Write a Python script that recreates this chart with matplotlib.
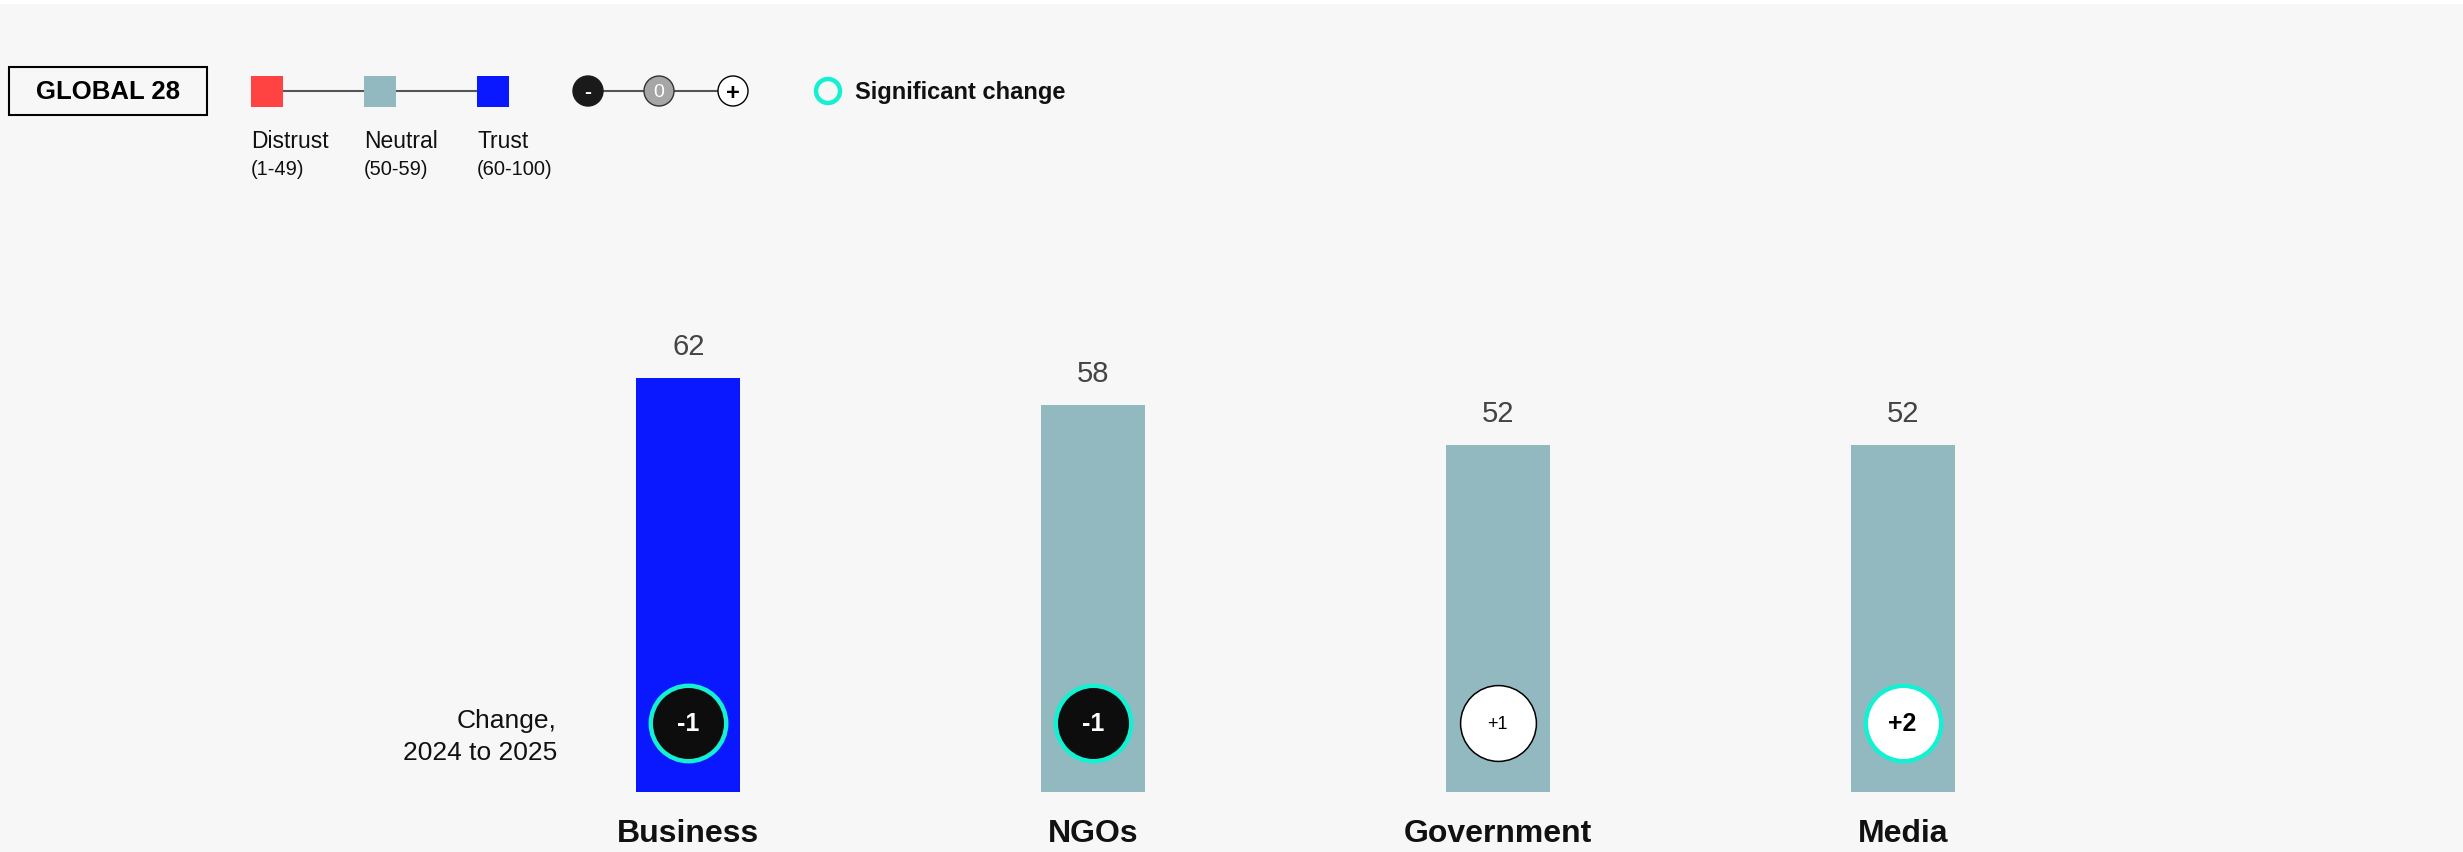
import matplotlib
matplotlib.use("Agg")
import matplotlib.pyplot as plt
from matplotlib.patches import Rectangle, Circle
import numpy as np

plt.rcParams['font.family'] = ['Liberation Sans', 'DejaVu Sans']

# data
categories = ["Business", "NGOs", "Government", "Media"]
trust = [62, 58, 52, 52]
change = [-1, -1, 1, 2]
significant = [True, True, False, True]

level_names = ["Distrust", "Neutral", "Trust"]
level_ranges = ["(1-49)", "(50-59)", "(60-100)"]

# colours
RED = '#FF4242'
NEUTRAL = '#93B9C0'
BLUE = '#0A18FF'
TEAL = '#14F0D2'
DARK = '#0D0D0D'
BG = '#F7F7F7'


def level_color(v):
    if v < 50:
        return RED
    elif v < 60:
        return NEUTRAL
    return BLUE


fig = plt.figure(figsize=(24.63, 8.53), dpi=100, facecolor=BG)

# main bar axes: y=0 at 793px, 6.68 px per point
H = 853.0
W = 2463.0
ax = fig.add_axes([486 / W, (H - 793) / H, 1619 / W, 668 / H])
ax.set_facecolor('none')
x = np.arange(len(categories))
ax.bar(x, trust, width=0.257, color=[level_color(v) for v in trust], zorder=2)
ax.set_xlim(-0.5, 3.5)
ax.set_ylim(0, 100)
for s in ax.spines.values():
    s.set_visible(False)
ax.set_yticks([])
ax.set_xticks(x)
ax.set_xticklabels(categories, fontsize=23, fontweight='bold', color='#111111')
ax.tick_params(axis='x', length=0, pad=19)

for i, v in enumerate(trust):
    ax.annotate(str(v), (x[i], v), xytext=(0, 23), textcoords='offset points',
                ha='center', va='center', fontsize=21, color='#444444')

# change circles
cy = 10.3
for i, c in enumerate(change):
    if c < 0:
        fc, tc = DARK, 'white'
    elif c > 0:
        fc, tc = 'white', 'black'
    else:
        fc, tc = '#A0A0A0', 'white'
    if significant[i]:
        ax.scatter(x[i], cy, s=2950, facecolor=fc, edgecolor=TEAL, linewidth=3.2, zorder=3)
    else:
        ax.scatter(x[i], cy, s=2980, facecolor=fc, edgecolor='black', linewidth=1.1, zorder=3)
    label = "%+d" % c if c != 0 else "0"
    ax.text(x[i], cy, label, ha='center', va='center', color=tc, zorder=4,
            fontsize=18 if significant[i] else 13,
            fontweight='bold' if significant[i] else 'normal')

# overlay in pixel coords for header / legend
ov = fig.add_axes([0, 0, 1, 1])
ov.set_xlim(0, W)
ov.set_ylim(H, 0)
ov.axis('off')
ov.patch.set_alpha(0)

ov.add_patch(Rectangle((0, 0), W, 5, facecolor='white', edgecolor='none'))

ov.text(557, 721, "Change,", ha='right', va='center', fontsize=19, color='#111111')
ov.text(557, 753, "2024 to 2025", ha='right', va='center', fontsize=19, color='#111111')

# GLOBAL 28 box
ov.add_patch(Rectangle((9, 68), 198, 48, facecolor=BG, edgecolor='black', linewidth=1.5))
ov.text(108, 92, "GLOBAL 28", ha='center', va='center', fontsize=18.5, fontweight='bold')

# trust scale legend
sq_x = [251, 364, 477]
ov.plot([267, 493], [92, 92], color='#555555', linewidth=1.5, zorder=1)
for k, col in enumerate([RED, NEUTRAL, BLUE]):
    ov.add_patch(Rectangle((sq_x[k], 77), 32, 31, facecolor=col, edgecolor='none', zorder=2))
    ov.text(sq_x[k], 141, level_names[k], ha='left', va='center', fontsize=16.5, color='#111111')
    ov.text(sq_x[k], 169, level_ranges[k], ha='left', va='center', fontsize=14.5, color='#111111')

# change direction legend
cx = [588, 659, 733]
ov.plot([588, 733], [92, 92], color='#555555', linewidth=1.5, zorder=1)
ov.add_patch(Circle((cx[0], 92), 15, facecolor='#1A1A1A', edgecolor='#1A1A1A', zorder=2))
ov.text(cx[0], 92, "-", ha='center', va='center', color='white', fontsize=15, fontweight='bold', zorder=3)
ov.add_patch(Circle((cx[1], 92), 15, facecolor='#A6A6A6', edgecolor='#333333', linewidth=1, zorder=2))
ov.text(cx[1], 92, "0", ha='center', va='center', color='white', fontsize=14, zorder=3)
ov.add_patch(Circle((cx[2], 92), 15, facecolor='white', edgecolor='black', linewidth=1, zorder=2))
ov.text(cx[2], 93, "+", ha='center', va='center', color='black', fontsize=17, fontweight='bold', zorder=3)

# significant change
ov.add_patch(Circle((828, 92), 12, facecolor='none', edgecolor=TEAL, linewidth=3.2))
ov.text(855, 92, "Significant change", ha='left', va='center', fontsize=17, fontweight='bold', color='#111111')

fig.savefig("out.png", dpi=100, facecolor=BG)
